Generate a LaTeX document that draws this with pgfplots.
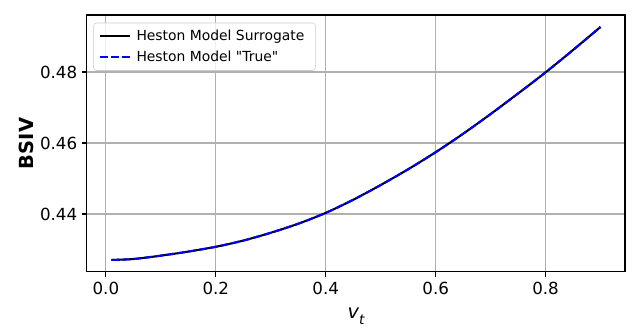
\documentclass[border=0pt]{standalone}
\usepackage{fontspec}
\setmainfont{DejaVu Sans}[Ligatures=TeXOff]
\usepackage{pgfplots}
\pgfplotsset{compat=1.18}
\definecolor{gridgray}{HTML}{B0B0B0}
\definecolor{legedge}{HTML}{CCCCCC}
\begin{document}
\begin{tikzpicture}
\begin{axis}[
  scale only axis,
  width=387.4pt, height=185pt,
  xmin=-0.0345, xmax=0.9445,
  ymin=0.42366, ymax=0.49606,
  xtick={0,0.2,0.4,0.6,0.8},
  ytick={0.44,0.46,0.48},
  /pgf/number format/assume math mode=true,
  xticklabel style={/pgf/number format/.cd,fixed,fixed zerofill,precision=1},
  yticklabel style={/pgf/number format/.cd,fixed,fixed zerofill,precision=2},
  tick label style={font=\fontsize{12}{14}\selectfont},
  grid=major,
  major grid style={gridgray, line width=0.8pt},
  axis line style={line width=0.8pt},
  tick style={black, line width=0.8pt},
  major tick length=3.5pt,
  tick align=outside,
  xtick pos=bottom, ytick pos=left,
  xlabel={{\itshape v\raisebox{-0.3em}{\fontsize{9.8}{10}\selectfont t}}},
  ylabel={\bfseries BSIV},
  label style={font=\fontsize{14}{16}\selectfont},
  xlabel style={yshift=-3pt},
  ylabel style={yshift=-2pt},
  legend style={at={(0.012,0.97)}, anchor=north west, draw=legedge, rounded corners=2pt,
    font=\fontsize{10}{12}\selectfont, fill=white, fill opacity=0.8, text opacity=1,
    inner xsep=4pt, inner ysep=3pt, row sep=2pt,
    nodes={inner xsep=4pt}},
  legend cell align=left,
  legend image code/.code={\draw[#1] (0cm,0cm) -- (0.75cm,0cm);},
]
\addplot[black, line width=1.5pt, smooth] coordinates {
(0.01,0.42704) (0.05,0.42730) (0.1,0.42825) (0.15,0.42940) (0.2,0.43075)
(0.25,0.43250) (0.3,0.43470) (0.35,0.43725) (0.4,0.44030) (0.45,0.44400)
(0.5,0.44815) (0.55,0.45260) (0.6,0.45740) (0.65,0.46260) (0.7,0.46815)
(0.75,0.47395) (0.8,0.47990) (0.85,0.48620) (0.9,0.49270)};
\addlegendentry{Heston Model Surrogate}
\addplot[blue, line width=1.5pt, dash pattern=on 5.55pt off 2.4pt, smooth] coordinates {
(0.01,0.42704) (0.05,0.42730) (0.1,0.42825) (0.15,0.42940) (0.2,0.43075)
(0.25,0.43250) (0.3,0.43470) (0.35,0.43725) (0.4,0.44030) (0.45,0.44400)
(0.5,0.44815) (0.55,0.45260) (0.6,0.45740) (0.65,0.46260) (0.7,0.46815)
(0.75,0.47395) (0.8,0.47990) (0.85,0.48620) (0.9,0.49270)};
\addlegendentry{Heston Model "True"}
\end{axis}
\pgfresetboundingbox
\path[use as bounding box] ([shift={(-62.6pt,-46pt)}]current axis.south west) rectangle ([shift={(10.8pt,10.8pt)}]current axis.north east);
\end{tikzpicture}
\end{document}
